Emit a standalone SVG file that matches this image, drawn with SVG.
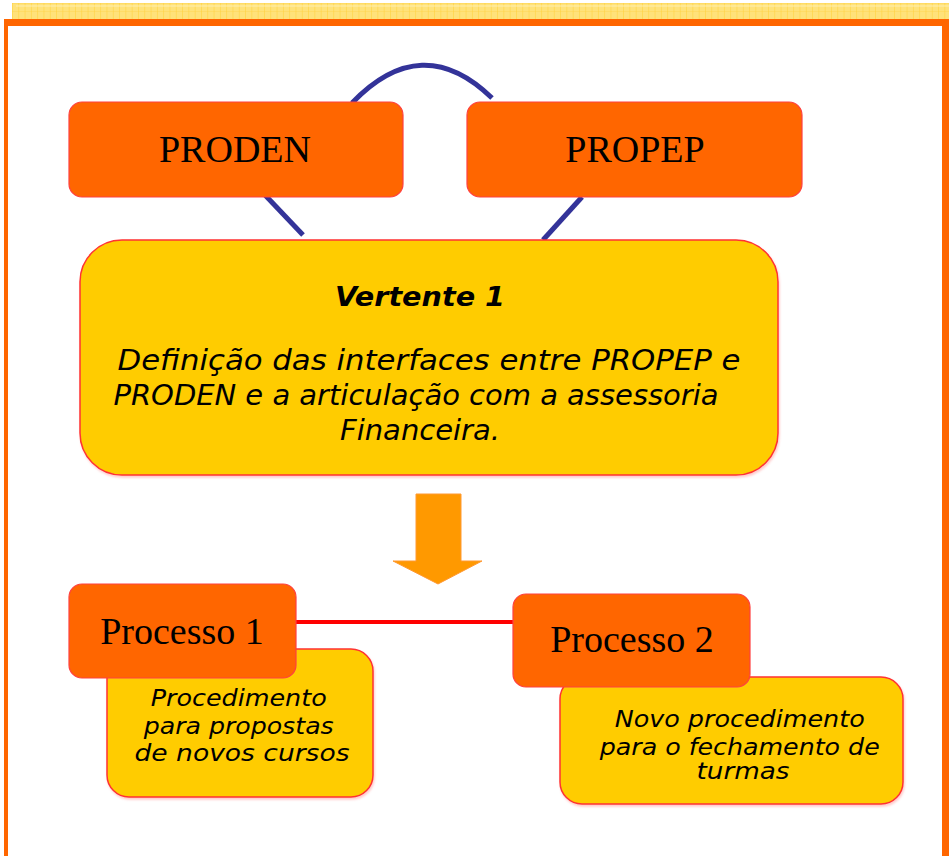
<svg xmlns="http://www.w3.org/2000/svg" width="949" height="856" viewBox="0 0 949 856">
<style>
.org{fill:#FF6600;stroke:#FF4040;stroke-width:1.2}
.yel{fill:#FFCC00;stroke:#FF3333;stroke-width:1.5}
.serif{font-family:"Liberation Serif","Times New Roman",serif;fill:#000}
.sans{font-family:"DejaVu Sans",sans-serif;font-stretch:condensed;font-style:italic;fill:#000}
.blue{stroke:#333399;stroke-width:5;fill:none}
</style>
<defs>
<pattern id="grid" x="12" y="3" width="6.3" height="8" patternUnits="userSpaceOnUse">
<rect width="6.3" height="8" fill="#FFE27A"/>
<path d="M0 0V8" stroke="#FFCC22" stroke-width="0.8"/>
<path d="M0 0H6.3" stroke="#FFD040" stroke-width="0.6"/>
</pattern>
<filter id="sh" x="-5%" y="-5%" width="110%" height="115%">
<feDropShadow dx="1" dy="2" stdDeviation="1" flood-color="#FF6666" flood-opacity="0.35"/>
</filter>
</defs>
<rect width="949" height="856" fill="#FFFFFF"/>
<g id="band">
<rect x="12" y="3" width="937" height="16" fill="url(#grid)"/>
<path d="M16 6H949" stroke="#FFF4C0" stroke-width="0.8"/>
</g>
<g id="frame" fill="#FF6600">
<rect x="4" y="19" width="945" height="7"/>
<rect x="4" y="19" width="4" height="837"/>
<rect x="942" y="19" width="7" height="837"/>
</g>
<g id="connectors">
<path class="blue" d="M352 103 Q422 30 492 98"/>
<path class="blue" d="M265 195 L303 235" stroke-width="4"/>
<path class="blue" d="M582 197 L543 240" stroke-width="4"/>
<path d="M295 622 H515" stroke="#FF0000" stroke-width="4"/>
<path d="M416 494 H461 V561 H482 L438 584 L393 561 H416 Z" fill="#FF9900" stroke="#FF9933" stroke-width="1"/>
</g>
<g id="proden">
<rect class="org" x="69" y="102" width="334" height="95" rx="13"/>
<text class="serif" x="235" y="162" font-size="38" text-anchor="middle">PRODEN</text>
</g>
<g id="propep">
<rect class="org" x="467" y="102" width="335" height="95" rx="13"/>
<text class="serif" x="635" y="162" font-size="38" text-anchor="middle">PROPEP</text>
</g>
<g id="vertente">
<rect class="yel" x="80" y="240" width="698" height="235" rx="42" filter="url(#sh)"/>
<text class="sans" x="420" y="306" font-size="27" font-weight="bold" text-anchor="middle" textLength="170" lengthAdjust="spacingAndGlyphs">Vertente 1</text>
<text class="sans" font-size="28" text-anchor="middle">
<tspan x="433" y="370" textLength="623" lengthAdjust="spacingAndGlyphs">Definição das interfaces entre PROPEP e</tspan>
<tspan x="420" y="405" textLength="605" lengthAdjust="spacingAndGlyphs">PRODEN e a articulação com a assessoria</tspan>
<tspan x="420" y="440" textLength="160" lengthAdjust="spacingAndGlyphs">Financeira.</tspan>
</text>
</g>
<g id="processo1">
<rect class="yel" x="107" y="649" width="266" height="148" rx="22" filter="url(#sh)"/>
<rect class="org" x="69" y="584" width="227" height="94" rx="13"/>
<text class="serif" x="182" y="644" font-size="38" text-anchor="middle">Processo 1</text>
<text class="sans" font-size="23" text-anchor="middle">
<tspan x="242" y="706" textLength="176" lengthAdjust="spacingAndGlyphs">Procedimento</tspan>
<tspan x="242" y="734" textLength="190" lengthAdjust="spacingAndGlyphs">para propostas</tspan>
<tspan x="242" y="761" textLength="215" lengthAdjust="spacingAndGlyphs">de  novos cursos</tspan>
</text>
</g>
<g id="processo2">
<rect class="yel" x="560" y="677" width="343" height="127" rx="22" filter="url(#sh)"/>
<rect class="org" x="513" y="594" width="237" height="93" rx="13"/>
<text class="serif" x="632" y="652" font-size="38" text-anchor="middle">Processo 2</text>
<text class="sans" font-size="23" text-anchor="middle">
<tspan x="743" y="727" textLength="250" lengthAdjust="spacingAndGlyphs">Novo procedimento</tspan>
<tspan x="743" y="755" textLength="280" lengthAdjust="spacingAndGlyphs">para o fechamento de</tspan>
<tspan x="743" y="779" textLength="93" lengthAdjust="spacingAndGlyphs">turmas</tspan>
</text>
</g>
</svg>
